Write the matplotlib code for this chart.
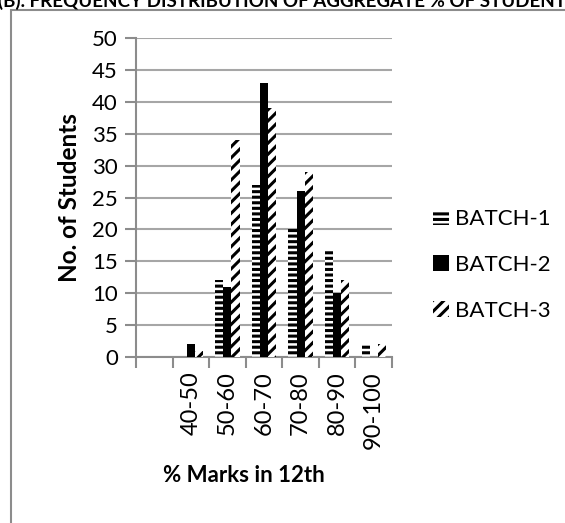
import numpy as np
import matplotlib.pyplot as plt
from matplotlib.patches import Rectangle

categories = ["", "40-50", "50-60", "60-70", "70-80", "80-90", "90-100"]
batch1 = [0, 0, 12, 27, 20, 17, 2]
batch2 = [0, 2, 11, 43, 26, 10, 0]
batch3 = [0, 1, 34, 39, 29, 12, 2]
series_names = ["BATCH-1", "BATCH-2", "BATCH-3"]
yticks = [0, 5, 10, 15, 20, 25, 30, 35, 40, 45, 50]

plt.rcParams['font.family'] = ['Lato', 'DejaVu Sans']
plt.rcParams['hatch.linewidth'] = 2.2

W, H = 565, 523
fig = plt.figure(figsize=(W / 100, H / 100), dpi=100)

# outer chart border (runs off the right/bottom of the picture)
fig.patches.append(Rectangle((11 / W, -0.1), 1.2, 1.1 - 10 / H, transform=fig.transFigure,
                             fill=False, edgecolor='#8c8c8c', linewidth=1.5))

# title is cut off at the top edge like in the source image
fig.text(-0.003, 1 - 7 / H, "(B). FREQUENCY DISTRIBUTION OF AGGREGATE % OF STUDENTS",
         fontsize=13.5, fontweight='bold', ha='left', va='baseline')

ax = fig.add_axes([136 / W, 1 - 357 / H, (392 - 136) / W, (357 - 38) / H])

x = np.arange(len(categories))
w = 0.222
ax.bar(x - w, batch1, w, facecolor='white', edgecolor='black', hatch='---',
       linewidth=0, label=series_names[0], zorder=3)
ax.bar(x, batch2, w, facecolor='black', edgecolor='black',
       linewidth=0, label=series_names[1], zorder=3)
ax.bar(x + w, batch3, w, facecolor='white', edgecolor='black', hatch='///',
       linewidth=0, label=series_names[2], zorder=3)

ax.set_xlim(-0.5, len(categories) - 0.5)
ax.set_ylim(0, 50)
ax.set_yticks(yticks)
ax.yaxis.grid(True, color='#a6a6a6', linewidth=1.5, zorder=0)
ax.set_axisbelow(True)

gray = '#8c8c8c'
for s in ['top', 'right']:
    ax.spines[s].set_visible(False)
for s in ['left', 'bottom']:
    ax.spines[s].set_color(gray)
    ax.spines[s].set_linewidth(1.5)

ax.set_xticks(x)
ax.set_xticklabels(categories, rotation=90, fontsize=17)
ax.set_xticks(np.arange(len(categories) + 1) - 0.5, minor=True)
ax.tick_params(axis='x', which='major', length=0, pad=10)
ax.tick_params(axis='x', which='minor', length=8, width=1.5, color=gray)
ax.tick_params(axis='y', length=8, width=1.5, color=gray, labelsize=16, pad=5)

ax.set_ylabel("No. of Students", fontsize=17.5, fontweight='bold', labelpad=8)
fig.text(244 / W, 1 - 476 / H, "% Marks in 12th", fontsize=16, fontweight='bold',
         ha='center', va='center')

leg = fig.legend(loc='center left', bbox_to_anchor=(433 / W, 1 - 265 / H), frameon=False,
                 fontsize=16, handlelength=0.7, handleheight=0.7, handletextpad=0.3,
                 labelspacing=1.15, borderaxespad=0, borderpad=0)

fig.savefig("out.png", dpi=100)
